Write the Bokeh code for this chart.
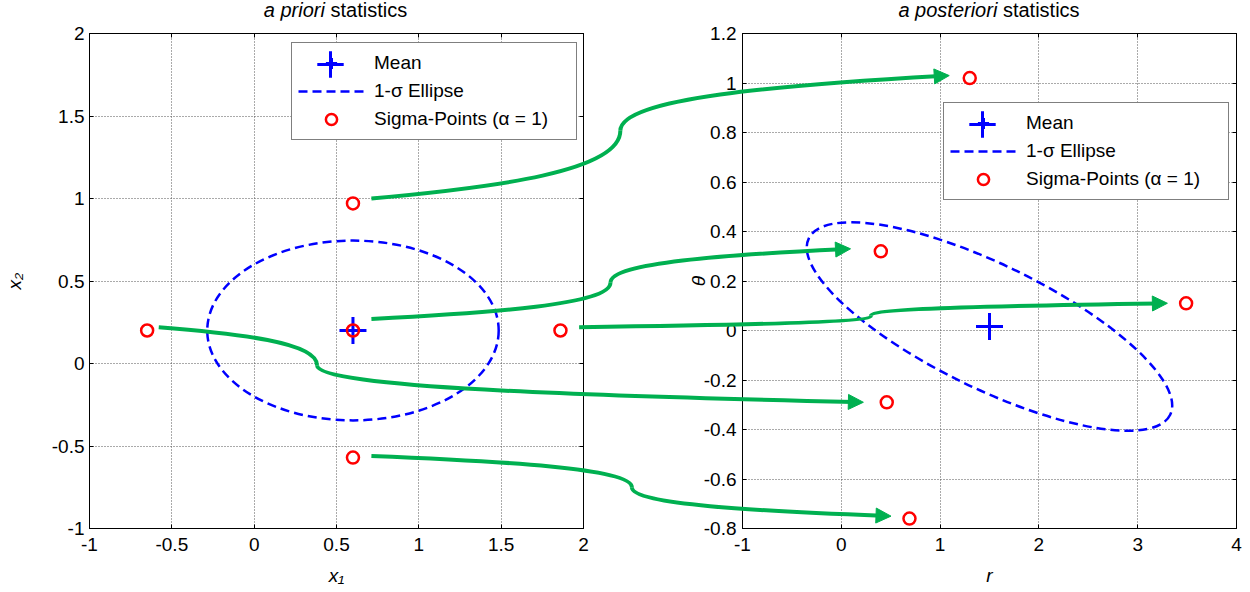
import numpy as np
from bokeh.plotting import figure
from bokeh.models import (Range1d, LinearAxis, FixedTicker, CustomJSTickFormatter, Legend,
                          LegendItem, Arrow, NormalHead, ColumnDataSource, GridBox, Grid, Div)
from bokeh.embed import file_html
from bokeh.resources import INLINE

# ---------------- data ----------------
xticks_prior = [-1, -0.5, 0, 0.5, 1, 1.5, 2]
yticks_prior = [-1, -0.5, 0, 0.5, 1, 1.5, 2]
xticks_post = [-1, 0, 1, 2, 3, 4]
yticks_post = [-0.8, -0.6, -0.4, -0.2, 0, 0.2, 0.4, 0.6, 0.8, 1, 1.2]
xrange_prior = (-1, 2)
yrange_prior = (-1, 2)
xrange_post = (-1, 4)
yrange_post = (-0.8, 1.2)

prior_mean_x1 = [0.6]
prior_mean_x2 = [0.2]
prior_sigma_x1 = [0.6, 0.6, 1.86, -0.65, 0.6]
prior_sigma_x2 = [0.2, 0.97, 0.2, 0.2, -0.57]
prior_ellipse_w = [1.77]
prior_ellipse_h = [1.09]
prior_ellipse_angle = [0.0]

post_mean_r = [1.5]
post_mean_theta = [0.016]
post_sigma_r = [0.40, 1.30, 3.49, 0.46, 0.69]
post_sigma_theta = [0.32, 1.02, 0.11, -0.29, -0.76]
post_ellipse_w = [4.07]
post_ellipse_h = [0.50]
post_ellipse_angle = [-0.454]

# connector arrows: start and bend in prior coordinates, tip in posterior coordinates
arrow_start_x1 = [0.71, 0.71, 1.97, -0.58, 0.71]
arrow_start_x2 = [0.27, 1.00, 0.22, 0.22, -0.56]
arrow_bend_x1 = [2.16, 2.22, 3.74, 0.38, 2.29]
arrow_bend_x2 = [0.49, 1.41, 0.29, -0.01, -0.75]
arrow_tip_r = [0.09, 1.09, 3.30, 0.22, 0.50]
arrow_tip_theta = [0.33, 1.03, 0.11, -0.29, -0.75]

legend_labels = ["Mean", "1-\u03c3 Ellipse", "Sigma-Points (\u03b1 = 1)"]
titles = [("a priori", "statistics"), ("a posteriori", "statistics")]

# ---------------- layout / style ----------------
FONT = "Liberation Sans"
FS = "19px"
BLUE = "#0000FF"
RED = "#FF0000"
GREEN = "#00B050"
TITLE_H = 20
H = 592 - TITLE_H
TOP, BOT = 13, 64
L_W, L_BL, L_BR = 610, 88, 27
R_W, R_BL, R_BR = 640, 132, 14
L_FW = L_W - L_BL - L_BR
R_FW = R_W - R_BL - R_BR
FH = H - TOP - BOT


def make_panel(width, bl, br, xr, yr, xticks, yticks, xlabel, ylabel, ylab_standoff, ylabel_standoff):
    p = figure(width=width, height=H, x_range=Range1d(*xr), y_range=Range1d(*yr),
               x_axis_type=None, y_axis_type=None, output_backend="svg", toolbar_location=None,
               min_border_left=bl, min_border_right=br, min_border_top=TOP, min_border_bottom=BOT,
               outline_line_color="black", outline_line_width=1)
    fmt = CustomJSTickFormatter(code="return String(tick)")
    xb = LinearAxis(ticker=FixedTicker(ticks=xticks), formatter=fmt, axis_label=xlabel)
    yl = LinearAxis(ticker=FixedTicker(ticks=yticks), formatter=fmt, axis_label=ylabel)
    xa = LinearAxis(ticker=FixedTicker(ticks=xticks))
    yrt = LinearAxis(ticker=FixedTicker(ticks=yticks))
    for ax in (xb, yl, xa, yrt):
        ax.major_tick_in = 4
        ax.major_tick_out = 0
        ax.minor_tick_line_color = None
        ax.axis_line_color = "black"
        ax.major_tick_line_color = "black"
        ax.major_label_text_font = FONT
        ax.major_label_text_font_size = FS
        ax.major_label_text_color = "black"
        ax.axis_label_text_font = FONT
        ax.axis_label_text_font_size = FS
        ax.axis_label_text_font_style = "italic"
        ax.axis_label_text_color = "black"
    for ax in (xa, yrt):   # box ticks only, no labels
        ax.major_label_text_font_size = "0px"
        ax.major_label_text_color = None
        ax.major_label_text_alpha = 0
        ax.major_label_standoff = 0
    xb.major_label_standoff = 9
    xb.axis_label_standoff = 11
    yl.major_label_standoff = ylab_standoff
    yl.axis_label_standoff = ylabel_standoff
    p.add_layout(xb, "below")
    p.add_layout(yl, "left")
    p.add_layout(xa, "above")
    p.add_layout(yrt, "right")
    for dim, ticks in ((0, xticks), (1, yticks)):
        p.add_layout(Grid(dimension=dim, ticker=FixedTicker(ticks=ticks), grid_line_color="#555555",
                          grid_line_dash="1 2", grid_line_width=1))
    return p


def add_content(p, mx, my, sx, sy, ew, eh, ea, loc):
    p.ellipse(x=[mx[0]], y=[my[0]], width=ew, height=eh, angle=ea, fill_color=None,
              line_color=BLUE, line_width=2.5, line_dash="9 5")
    r_mean = p.scatter(mx, my, marker="cross", size=27, line_color=BLUE, line_width=3)
    r_sig = p.scatter(sx, sy, marker="circle", size=12, fill_color=None, line_color=RED, line_width=2.5)
    # one-point line: invisible in the plot, gives the dashed key in the legend
    r_key = p.line(x=mx, y=my, line_color=BLUE, line_width=2.5, line_dash="9 5")
    leg = Legend(items=[LegendItem(label=legend_labels[0], renderers=[r_mean]),
                        LegendItem(label=legend_labels[1], renderers=[r_key]),
                        LegendItem(label=legend_labels[2], renderers=[r_sig])],
                 location=loc, padding=6, spacing=0, glyph_width=66, glyph_height=28,
                 label_height=28, label_width=196, label_standoff=10, margin=0,
                 label_text_font=FONT, label_text_font_size=FS, label_text_color="black",
                 border_line_color="black", border_line_width=1, background_fill_color="white",
                 background_fill_alpha=1)
    p.add_layout(leg)
    # larger key for the mean marker, laid over the first legend row
    big = Legend(items=[LegendItem(label=" ", renderers=[r_mean])],
                 location=(loc[0] + 6, loc[1] + 96 - 6 - 14 - 34), padding=0, spacing=0,
                 glyph_width=66, glyph_height=68, label_height=68, label_width=0, label_standoff=0,
                 margin=0, label_text_font_size="1px", border_line_color=None,
                 background_fill_color=None, background_fill_alpha=0)
    p.add_layout(big)


# ---------------- a priori panel ----------------
pL = make_panel(L_W, L_BL, L_BR, xrange_prior, yrange_prior, xticks_prior, yticks_prior,
                "x\u2081", "x\u2082", 5, 24)
add_content(pL, prior_mean_x1, prior_mean_x2, prior_sigma_x1, prior_sigma_x2,
            prior_ellipse_w[0], prior_ellipse_h[0], prior_ellipse_angle[0], (202, 388))

# ---------------- a posteriori panel ----------------
pR = make_panel(R_W, R_BL, R_BR, xrange_post, yrange_post, xticks_post, yticks_post,
                "r", "\u03b8", 6, -8)
add_content(pR, post_mean_r, post_mean_theta, post_sigma_r, post_sigma_theta,
            post_ellipse_w[0], post_ellipse_h[0], post_ellipse_angle[0], (201, 328))

# ---------------- titles ----------------
def title_div(width, left, fw, it, nt):
    html = ('<div style="margin-left:%dpx;width:%dpx;text-align:center;'
            'font-family:\'Liberation Sans\',Arial,sans-serif;font-size:20px;line-height:20px;'
            'padding-top:0px;color:#000;white-space:nowrap;overflow:visible">'
            '<i>%s</i> %s</div>') % (left, fw, it, nt)
    return Div(text=html, width=width, height=TITLE_H, margin=0, styles={"overflow": "visible"})


dL = title_div(L_W, L_BL, L_FW, *titles[0])
dR = title_div(R_W, R_BL, R_FW, *titles[1])

# ---------------- transparent overlay for the connecting arrows ----------------
OV_W = L_W + R_W
OV_FW = OV_W - L_BL - R_BR
ppu = L_FW / (xrange_prior[1] - xrange_prior[0])      # pixels per prior x unit
ov = figure(width=OV_W, height=H,
            x_range=Range1d(xrange_prior[0], xrange_prior[0] + OV_FW / ppu),
            y_range=Range1d(*yrange_prior), x_axis_type=None, y_axis_type=None,
            output_backend="svg", toolbar_location=None,
            min_border_left=L_BL, min_border_right=R_BR, min_border_top=TOP, min_border_bottom=BOT,
            background_fill_color=None, border_fill_color=None, outline_line_color=None)


def post_to_prior_x(r):
    off = (L_W + R_BL - L_BL) + (r - xrange_post[0]) * R_FW / (xrange_post[1] - xrange_post[0])
    return xrange_prior[0] + off / ppu


def post_to_prior_y(th):
    return yrange_prior[0] + (th - yrange_post[0]) * (yrange_prior[1] - yrange_prior[0]) / (yrange_post[1] - yrange_post[0])


Sx, Sy = np.array(arrow_start_x1), np.array(arrow_start_x2)
Mx, My = np.array(arrow_bend_x1), np.array(arrow_bend_x2)
Tx, Ty = post_to_prior_x(np.array(arrow_tip_r)), post_to_prior_y(np.array(arrow_tip_theta))
A, B = 0.6, 0.5
dx, dy = B * (Tx - Mx), B / 3 * (Ty - My)
dn = np.hypot(dx, dy)
Ex, Ey = Tx - 0.055 * dx / dn, Ty - 0.055 * dy / dn


def seg(Px, Py):
    return dict(x0=Mx, y0=My, x1=Px, y1=Py, cx0=Mx, cy0=My + A * (Py - My),
                cx1=Mx + (1 - B) * (Px - Mx), cy1=My + (1 - B / 3) * (Py - My))


for P in (seg(Sx, Sy), seg(Ex, Ey)):
    ov.bezier(x0="x0", y0="y0", x1="x1", y1="y1", cx0="cx0", cy0="cy0", cx1="cx1", cy1="cy1",
              source=ColumnDataSource(P), line_color=GREEN, line_width=4)

head_src = ColumnDataSource(dict(xs=Mx + (1 - B) * (Ex - Mx), ys=My + (1 - B / 3) * (Ey - My), xe=Tx, ye=Ty))
ov.add_layout(Arrow(end=NormalHead(size=15, fill_color=GREEN, line_color=GREEN, line_width=1),
                    x_start="xs", y_start="ys", x_end="xe", y_end="ye", source=head_src,
                    line_alpha=0))

layout = GridBox(children=[(dL, 0, 0), (dR, 0, 1), (pL, 1, 0), (pR, 1, 1), (ov, 1, 0, 1, 2)],
                 spacing=0)

open("out.html", "w").write(file_html(layout, INLINE))
